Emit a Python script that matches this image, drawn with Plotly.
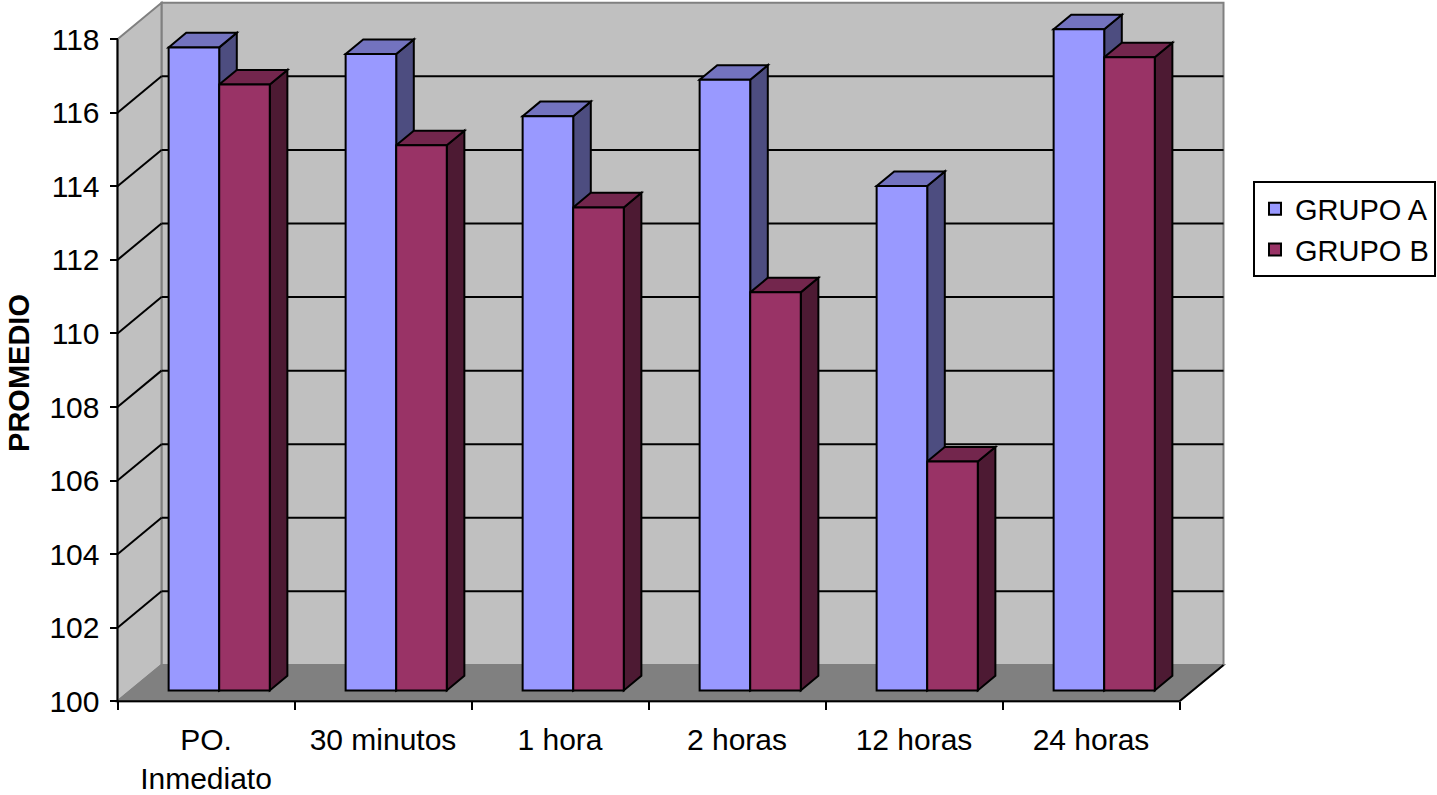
import plotly.graph_objects as go

# ---- data -------------------------------------------------------------
categories = ["PO.<br>Inmediato", "30 minutos", "1 hora", "2 horas", "12 horas", "24 horas"]
grupo_a = [117.48, 117.30, 115.61, 116.60, 113.71, 117.97]
grupo_b = [116.47, 114.82, 113.13, 110.82, 106.22, 117.21]
y_ticks = list(range(100, 119, 2))
y_min, y_max = 100, 118

# ---- geometry (pixels) ------------------------------------------------
W, H = 1437, 795
ML, MR, MT, MB = 110, 207, 0, 85
PX_X0 = 117.5        # front-left corner of the floor
PX_Y0 = 703.3        # front edge of the floor (value 100)
CAT_PX = 177.0       # width of one category
UNIT_PX = 36.89      # height of one value unit
DEPTH_PX = (44.0, 36.5)

plot_w = W - ML - MR
plot_h = H - MT - MB
x_lo = -0.5 - (PX_X0 - ML) / CAT_PX
x_hi = x_lo + plot_w / CAT_PX
y_lo = y_min - (MT + plot_h - PX_Y0) / UNIT_PX
y_hi = y_lo + plot_h / UNIT_PX
DX = DEPTH_PX[0] / CAT_PX      # depth offset in x data units
DY = DEPTH_PX[1] / UNIT_PX     # depth offset in y data units

BW = 1 / 3.5                   # bar width (gap width 150%)
F, B = 0.3, 0.7                # front / back depth of the columns
n = len(categories)
x_left, x_right = -0.5, n - 0.5

FONT = "Arial, Liberation Sans, sans-serif"
WALL = "#C0C0C0"
FLOOR = "#808080"
EDGE = "#808080"

COL_A = dict(front="#9999FF", top="#7373BF", side="#4D4D80")
COL_B = dict(front="#993366", top="#73264D", side="#4D1A33")


def poly(pts, fill, color="black", width=2):
    path = "M" + "L".join(f"{x:.5f},{y:.5f}" for x, y in pts) + "Z"
    return dict(type="path", xref="x", yref="y", path=path, fillcolor=fill,
                line=dict(color=color, width=width), layer="below")


def seg(x0, y0, x1, y1, color="black", width=2):
    return dict(type="line", xref="x", yref="y", x0=x0, y0=y0, x1=x1, y1=y1,
                line=dict(color=color, width=width), layer="below")


shapes = []
# walls and floor
shapes.append(poly([(x_left + DX, y_min + DY), (x_right + DX, y_min + DY),
                    (x_right + DX, y_max + DY), (x_left + DX, y_max + DY)], WALL, EDGE))
shapes.append(poly([(x_left, y_min), (x_left, y_max),
                    (x_left + DX, y_max + DY), (x_left + DX, y_min + DY)], WALL, EDGE))
shapes.append(poly([(x_left, y_min), (x_right, y_min),
                    (x_right + DX, y_min + DY), (x_left + DX, y_min + DY)], FLOOR, EDGE))

# gridlines on back wall and side wall
for t in y_ticks:
    if t in (y_min, y_max):
        continue
    shapes.append(seg(x_left + DX, t + DY, x_right + DX, t + DY))
    shapes.append(seg(x_left, t, x_left + DX, t + DY))

# front edges of the box
shapes.append(seg(x_left, y_min, x_right, y_min))
shapes.append(seg(x_right, y_min, x_right + DX, y_min + DY))
shapes.append(seg(x_left, y_min, x_left, y_max))


def column_faces(xl, v, col):
    xr = xl + BW
    side = poly([(xr + F * DX, y_min + F * DY), (xr + F * DX, v + F * DY),
                 (xr + B * DX, v + B * DY), (xr + B * DX, y_min + B * DY)], col["side"])
    top = poly([(xl + F * DX, v + F * DY), (xr + F * DX, v + F * DY),
                (xr + B * DX, v + B * DY), (xl + B * DX, v + B * DY)], col["top"])
    return [side, top]


for i in range(n):
    shapes += column_faces(i - BW, grupo_a[i], COL_A)
    shapes += column_faces(i, grupo_b[i], COL_B)

fig = go.Figure()
for name, vals, col, off in (("GRUPO A", grupo_a, COL_A, -BW), ("GRUPO B", grupo_b, COL_B, 0.0)):
    fig.add_trace(go.Bar(
        x=[i + F * DX for i in range(n)],
        y=[v - y_min for v in vals],
        base=y_min + F * DY,
        width=BW, offset=off, name=name,
        marker=dict(color=col["front"], line=dict(color="black", width=2)),
    ))

fig.update_layout(
    width=W, height=H,
    margin=dict(l=ML, r=MR, t=MT, b=MB, pad=0),
    paper_bgcolor="white", plot_bgcolor="white",
    barmode="overlay",
    shapes=shapes,
    font=dict(family=FONT, color="black", size=30),
    xaxis=dict(
        range=[x_lo, x_hi], anchor="free", position=(MT + plot_h - PX_Y0) / plot_h,
        tickmode="array", tickvals=list(range(n)), ticktext=categories,
        ticks="", showgrid=False, zeroline=False, showline=False,
        tickfont=dict(size=30, family=FONT, color="black"),
        ticklabelstandoff=18,
        minor=dict(tickmode="array", tickvals=[i - 0.5 for i in range(n + 1)],
                   ticks="outside", ticklen=8, tickwidth=2, tickcolor="black",
                   showgrid=False),
    ),
    yaxis=dict(
        range=[y_lo, y_hi], anchor="free", position=(PX_X0 - ML) / plot_w,
        tickmode="array", tickvals=y_ticks,
        ticks="outside", ticklen=8, tickwidth=2, tickcolor="black",
        showgrid=False, zeroline=False, showline=False,
        tickfont=dict(size=30, family=FONT, color="black"),
        ticklabelstandoff=4,
    ),
    legend=dict(
        x=(1436 - ML) / plot_w, xanchor="right",
        y=(MT + plot_h - 182) / plot_h, yanchor="top",
        bgcolor="white", bordercolor="black", borderwidth=2,
        font=dict(size=29, family=FONT, color="black"),
    ),
    annotations=[dict(
        text="<b>PROMEDIO</b>", textangle=-90, showarrow=False,
        xref="paper", yref="paper",
        x=(19 - ML) / plot_w, y=(MT + plot_h - 374) / plot_h,
        xanchor="center", yanchor="middle",
        font=dict(size=29, family=FONT, color="black"),
    )],
)

fig.write_html("out.html")
